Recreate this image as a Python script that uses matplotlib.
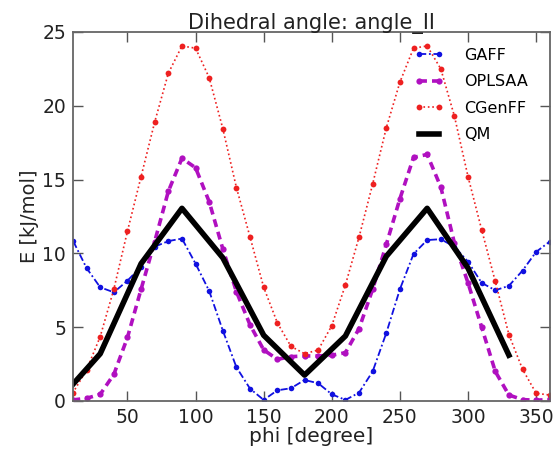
import numpy as np
import matplotlib
matplotlib.use("Agg")
from matplotlib import pyplot as plt

# dihedral scan, every 10 degrees (0 == 360)
phi = list(range(0, 361, 10))

gaff = [10.8, 10.86, 9.0, 7.7, 7.36, 8.15, 9.1, 10.45, 10.83, 11.0,
        9.3, 7.45, 4.77, 2.28, 0.83, 0.07, 0.72, 0.86, 1.42, 1.2,
        0.45, 0.07, 0.56, 2.0, 4.6, 7.57, 9.96, 10.9, 10.96, 10.45,
        9.44, 8.0, 7.5, 7.8, 8.83, 10.1, 10.8]

oplsaa = [0.1, 0.07, 0.18, 0.45, 1.8, 4.3, 7.57, 10.8, 14.2, 16.44,
          15.8, 13.5, 10.3, 7.4, 5.15, 3.46, 2.82, 3.0, 3.05, 3.05,
          3.1, 3.27, 4.9, 7.57, 10.6, 13.7, 16.5, 16.7, 14.5, 10.7,
          8.0, 5.0, 2.0, 0.4, 0.09, 0.05, 0.1]

cgenff = [0.4, 0.56, 2.1, 4.36, 7.57, 11.5, 15.2, 18.9, 22.2, 24.05,
          23.9, 21.9, 18.45, 14.45, 11.1, 7.7, 5.3, 3.7, 3.2, 3.45,
          5.1, 7.86, 11.1, 14.7, 18.5, 21.6, 23.9, 24.05, 22.5, 19.3,
          15.2, 11.6, 8.1, 4.5, 2.15, 0.52, 0.4]

# QM reference, every 30 degrees
phi_qm = [0, 30, 60, 90, 120, 150, 180, 210, 240, 270, 300, 330]
qm = [0.1, 3.2, 9.3, 13.05, 9.7, 4.45, 1.75, 4.4, 9.8, 13.05, 9.0, 3.1]

fig = plt.figure(figsize=(5.57, 4.5), dpi=100)
ax = fig.add_axes([0.131, 0.109, 0.856, 0.820])

ax.plot(phi, gaff, color="#1010e0", linestyle="-.", dashes=(4, 1.5, 1, 1.5),
        lw=1.3, marker="o", ms=4, mec="none", label="GAFF")
ax.plot(phi, oplsaa, color="#b010c0", linestyle="--", dashes=(2.2, 1.4),
        lw=2.6, marker="o", ms=4.5, mec="none", label="OPLSAA")
ax.plot(phi, cgenff, color="#ee2020", linestyle=":", lw=1.2,
        marker="o", ms=4.2, mec="none", label="CGenFF")
ax.plot(phi_qm, qm, color="black", lw=4, label="QM")

ax.set_xlim(10, 360)
ax.set_ylim(0, 25)
ax.set_xticks([50, 100, 150, 200, 250, 300, 350])
ax.set_yticks([0, 5, 10, 15, 20, 25])

ax.tick_params(direction="in", length=7, width=1, colors="#555555",
               labelcolor="#222222", labelsize=13.5, top=True, right=True, pad=5)
for s in ax.spines.values():
    s.set_color("#666666")
    s.set_linewidth(1.3)

ax.set_xlabel("phi [degree]", fontsize=14.5, color="#222222", labelpad=0)
ax.set_ylabel("E [kJ/mol]", fontsize=14, color="#222222", labelpad=2)
ax.set_title("Dihedral angle: angle_II", fontsize=15, color="#222222", pad=2)

ax.legend(loc="upper right", frameon=False, numpoints=2, fontsize=11.5,
          handlelength=1.8, handletextpad=1.3, labelspacing=0.72,
          borderaxespad=0.6, bbox_to_anchor=(0.988, 1.0))

fig.savefig("out.png", dpi=100)
